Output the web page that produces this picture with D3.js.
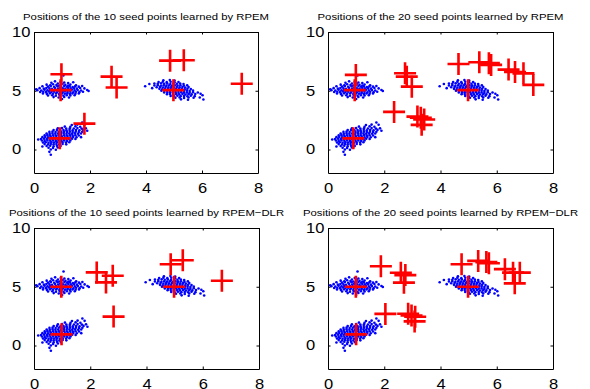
<!DOCTYPE html>
<html>
<head>
<meta charset="utf-8">
<script src="https://cdn.jsdelivr.net/npm/d3@7"></script>
<style>
	body { margin: 0; background: #fff; }
	svg { display: block; }
	text { font-family: "Liberation Sans", Arial, sans-serif; fill: #000; }
</style>
</head>
<body>
<div id="chart"></div>
<script>
// tick values shared by all four panels
const xTicks = [0, 2, 4, 6, 8];
const yTicks = [0, 5, 10];

const titles = [
	'Positions of the 10 seed points learned by RPEM',
	'Positions of the 20 seed points learned by RPEM',
	'Positions of the 10 seed points learned by RPEM\u2212DLR',
	'Positions of the 20 seed points learned by RPEM\u2212DLR',
];

// seed points (red crosses), one list per panel
const seedsRpem10 = [
	[0.98, 6.4], [0.95, 5.05], [0.92, 0.95], [1.8, 2.2], [2.77, 6.2],
	[2.95, 5.28], [4.86, 7.56], [5.35, 7.6], [4.98, 5.05], [7.42, 5.6],
];
const seedsRpem20 = [
	[0.99, 6.35], [0.95, 5.05], [0.9, 0.95], [4.98, 5.05], [2.35, 3.2],
	[2.74, 6.49], [2.8, 6.2], [2.98, 5.35], [3.18, 2.8], [3.3, 2.7],
	[3.42, 2.55], [3.33, 2.1], [4.64, 7.28], [5.38, 7.42], [5.72, 7.35],
	[5.8, 7.2], [6.42, 6.8], [6.65, 6.6], [6.95, 6.48], [7.3, 5.5],
];
const seedsDlr10 = [
	[0.97, 5.0], [0.98, 0.95], [4.98, 5.0], [2.23, 6.22], [2.56, 5.37],
	[2.8, 5.93], [2.83, 2.46], [4.86, 6.92], [5.29, 7.26], [6.68, 5.51],
];
const seedsDlr20 = [
	[0.99, 5.0], [1.0, 0.95], [4.98, 5.0], [1.88, 6.75], [2.59, 6.19],
	[2.75, 5.99], [2.7, 5.35], [2.04, 2.69], [2.85, 2.7], [2.97, 2.55],
	[3.1, 2.45], [3.08, 2.05], [4.75, 6.92], [5.34, 7.2], [5.63, 7.1],
	[5.72, 7.0], [6.29, 6.5], [6.58, 6.2], [6.82, 6.2], [6.64, 5.29],
];

// sample data (blue dots), the same in every panel
const clusterA = [
	[0.62, 5.68], [0.95, 5.75], [1.22, 5.66], [1.4, 5.72], [0.85, 5.62], [1.08, 5.7], [0.75, 5.8],
	[0.45, 5.52], [0.68, 5.55], [0.8, 5.48], [1.02, 5.58], [1.12, 5.5], [1.3, 5.53], [1.5, 5.47], [0.9, 5.45], [0.58, 5.46], [1.22, 5.45],
	[0.3, 5.38], [0.5, 5.35], [0.6, 5.4], [0.72, 5.33], [0.84, 5.38], [0.97, 5.36], [1.08, 5.41], [1.18, 5.34], [1.27, 5.39], [1.38, 5.32], [1.47, 5.37], [1.6, 5.35], [1.72, 5.4],
	[0.2, 5.22], [0.35, 5.18], [0.44, 5.24], [0.55, 5.2], [0.64, 5.17], [0.75, 5.23], [0.86, 5.19], [0.93, 5.25], [1.03, 5.21], [1.12, 5.18], [1.22, 5.24], [1.31, 5.2], [1.42, 5.22], [1.53, 5.18], [1.65, 5.23], [1.8, 5.2],
	[0.12, 5.05], [0.26, 5.02], [0.38, 5.08], [0.48, 5.04], [0.58, 5.07], [0.67, 5.02], [0.78, 5.06], [0.88, 5.03], [0.98, 5.08], [1.07, 5.02], [1.16, 5.06], [1.26, 5.04], [1.35, 5.08], [1.45, 5.03], [1.56, 5.06], [1.68, 5.02], [1.9, 5.07],
	[0.22, 4.9], [0.33, 4.92], [0.43, 4.88], [0.53, 4.93], [0.62, 4.89], [0.72, 4.92], [0.82, 4.87], [0.92, 4.91], [1.02, 4.88], [1.11, 4.93], [1.2, 4.89], [1.3, 4.92], [1.4, 4.87], [1.5, 4.91], [1.62, 4.88], [1.75, 4.92],
	[0.32, 4.76], [0.46, 4.73], [0.57, 4.78], [0.68, 4.74], [0.79, 4.77], [0.9, 4.72], [1.0, 4.76], [1.1, 4.74], [1.19, 4.78], [1.28, 4.73], [1.37, 4.77], [1.48, 4.74], [1.6, 4.76],
	[0.5, 4.6], [0.65, 4.62], [0.78, 4.58], [0.92, 4.61], [1.05, 4.57], [1.17, 4.62], [1.3, 4.59], [1.45, 4.62],
	[0.7, 4.46], [0.88, 4.42], [1.08, 4.47], [1.25, 4.43], [1.0, 4.3],
	[1.05, 6.3], [1.95, 4.98], [0.08, 5.12],
];
const clusterB = [
	[1.72, 2.3],
	[1.35, 2.08], [1.55, 2.12],
	[1.1, 1.95], [1.3, 1.93], [1.48, 1.97], [1.65, 1.94],
	[0.85, 1.8], [1.0, 1.82], [1.15, 1.78], [1.28, 1.81], [1.42, 1.79], [1.55, 1.82], [1.7, 1.78], [1.85, 1.8],
	[0.7, 1.65], [0.82, 1.67], [0.94, 1.63], [1.05, 1.66], [1.16, 1.64], [1.27, 1.67], [1.38, 1.63], [1.5, 1.66], [1.62, 1.64], [1.76, 1.67],
	[0.55, 1.5], [0.66, 1.52], [0.77, 1.48], [0.88, 1.51], [0.98, 1.49], [1.08, 1.52], [1.18, 1.48], [1.28, 1.51], [1.38, 1.49], [1.49, 1.52], [1.6, 1.48], [1.72, 1.51],
	[0.45, 1.36], [0.56, 1.33], [0.66, 1.37], [0.76, 1.34], [0.86, 1.36], [0.96, 1.33], [1.06, 1.37], [1.16, 1.34], [1.26, 1.36], [1.36, 1.33], [1.46, 1.37], [1.57, 1.34], [1.68, 1.36],
	[0.38, 1.2], [0.48, 1.22], [0.58, 1.18], [0.68, 1.21], [0.78, 1.19], [0.88, 1.22], [0.98, 1.18], [1.08, 1.21], [1.18, 1.19], [1.28, 1.22], [1.38, 1.18], [1.48, 1.21], [1.6, 1.19],
	[0.3, 1.05], [0.4, 1.07], [0.5, 1.03], [0.6, 1.06], [0.7, 1.04], [0.8, 1.07], [0.9, 1.03], [1.0, 1.06], [1.1, 1.04], [1.2, 1.07], [1.3, 1.03], [1.4, 1.06], [1.52, 1.04], [1.68, 1.05],
	[0.25, 0.9], [0.36, 0.92], [0.46, 0.88], [0.56, 0.91], [0.66, 0.89], [0.76, 0.92], [0.86, 0.88], [0.96, 0.91], [1.06, 0.89], [1.16, 0.92], [1.26, 0.88], [1.36, 0.91], [1.48, 0.89],
	[0.28, 0.76], [0.38, 0.73], [0.48, 0.77], [0.58, 0.74], [0.68, 0.76], [0.78, 0.73], [0.88, 0.77], [0.98, 0.74], [1.08, 0.76], [1.18, 0.73], [1.3, 0.77],
	[0.32, 0.6], [0.42, 0.62], [0.52, 0.58], [0.62, 0.61], [0.72, 0.59], [0.82, 0.62], [0.92, 0.58], [1.02, 0.61], [1.14, 0.59], [1.26, 0.62],
	[0.38, 0.46], [0.5, 0.43], [0.6, 0.47], [0.7, 0.44], [0.8, 0.46], [0.9, 0.43], [1.02, 0.47], [1.15, 0.44],
	[0.45, 0.3], [0.58, 0.32], [0.7, 0.28], [0.82, 0.31], [0.95, 0.29],
	[0.52, 0.15], [0.68, 0.13], [0.85, 0.17],
	[0.6, 0.0], [0.78, -0.02], [0.55, -0.2], [0.6, -0.45],
	[0.15, 0.85], [1.9, 1.6], [0.3, 0.25], [1.8, 2.1],
];
const clusterC = [
	[4.62, 5.9], [4.85, 5.92], [5.02, 5.87],
	[4.45, 5.75], [4.6, 5.77], [4.74, 5.73], [4.88, 5.76], [5.02, 5.72], [5.16, 5.75],
	[4.12, 5.58], [4.3, 5.62], [4.42, 5.6], [4.54, 5.63], [4.65, 5.59], [4.76, 5.62], [4.87, 5.58], [4.98, 5.61], [5.1, 5.6], [5.22, 5.62], [5.34, 5.58],
	[4.3, 5.45], [4.42, 5.47], [4.53, 5.43], [4.63, 5.46], [4.73, 5.44], [4.83, 5.47], [4.93, 5.43], [5.03, 5.46], [5.13, 5.44], [5.23, 5.47], [5.35, 5.43], [5.47, 5.46],
	[3.97, 5.38], [4.38, 5.3], [4.5, 5.32], [4.6, 5.28], [4.7, 5.31], [4.8, 5.29], [4.9, 5.32], [5.0, 5.28], [5.1, 5.31], [5.2, 5.29], [5.3, 5.32], [5.4, 5.28], [5.52, 5.31],
	[4.48, 5.16], [4.58, 5.13], [4.68, 5.17], [4.78, 5.14], [4.88, 5.16], [4.98, 5.13], [5.08, 5.17], [5.18, 5.14], [5.28, 5.16], [5.38, 5.13], [5.48, 5.17], [5.6, 5.14],
	[4.55, 5.0], [4.66, 5.02], [4.76, 4.98], [4.86, 5.01], [4.96, 4.99], [5.06, 5.02], [5.16, 4.98], [5.26, 5.01], [5.36, 4.99], [5.46, 5.02], [5.56, 4.98], [5.68, 5.01],
	[4.65, 4.86], [4.76, 4.83], [4.86, 4.87], [4.96, 4.84], [5.06, 4.86], [5.16, 4.83], [5.26, 4.87], [5.36, 4.84], [5.46, 4.86], [5.56, 4.83], [5.68, 4.87], [5.85, 4.85],
	[4.75, 4.7], [4.86, 4.72], [4.97, 4.68], [5.08, 4.71], [5.19, 4.69], [5.3, 4.72], [5.41, 4.68], [5.52, 4.71], [5.63, 4.69], [5.76, 4.72],
	[4.88, 4.56], [5.0, 4.53], [5.12, 4.57], [5.24, 4.54], [5.36, 4.56], [5.48, 4.53], [5.6, 4.57], [5.74, 4.54],
	[5.05, 4.4], [5.2, 4.42], [5.36, 4.38], [5.52, 4.42], [5.7, 4.4], [5.92, 4.42],
	[5.25, 4.27], [5.5, 4.24],
	[6.05, 4.25], [6.02, 4.62], [4.22, 5.22], [5.95, 4.75],
];

const seedSets = [seedsRpem10, seedsRpem20, seedsDlr10, seedsDlr20];
const samples = clusterA.concat(clusterB, clusterC);

const width = 590;
const height = 389;
const tickFont = 14;
const textStretch = 1.18;

// axes boxes in pixels: [left, top, right, bottom]
const boxes = [
	[34, 32, 258, 173],
	[328, 32, 553, 173],
	[34, 228, 259, 369],
	[328, 228, 553, 369],
];

const svg = d3.select('#chart').append('svg')
	.attr('width', width)
	.attr('height', height);

boxes.forEach(([left, top, right, bottom], i) => {
	const xScale = d3.scaleLinear().domain([0, 8]).range([left, right]);
	const yScale = d3.scaleLinear().domain([-2, 10]).range([bottom, top]);
	const g = svg.append('g');

	g.append('text')
		.attr('transform', `translate(${(left + right) / 2},${top - 12}) scale(${textStretch},1)`)
		.attr('text-anchor', 'middle')
		.style('font-size', '9.6px')
		.text(titles[i]);

	g.selectAll('.dot')
		.data(samples)
		.enter().append('circle')
		.attr('class', 'dot')
		.attr('cx', (d) => xScale(d[0]))
		.attr('cy', (d) => yScale(d[1]))
		.attr('r', 1.3)
		.style('fill', '#0000ff');

	const cross = 11;
	const seeds = g.selectAll('.seed')
		.data(seedSets[i])
		.enter().append('g')
		.attr('class', 'seed')
		.attr('transform', (d) => `translate(${xScale(d[0])},${yScale(d[1])})`);
	seeds.append('path')
		.attr('d', `M${-cross},0H${cross}M0,${-cross}V${cross}`)
		.attr('fill', 'none')
		.attr('stroke', '#ff0000')
		.attr('stroke-width', 2.6);

	const xAxis = g.append('g')
		.attr('transform', `translate(0,${bottom})`)
		.call(d3.axisBottom(xScale).tickValues(xTicks).tickSize(-2.5).tickSizeOuter(0).tickPadding(10));
	xAxis.selectAll('text')
		.attr('transform', `scale(${textStretch},1)`)
		.style('font-size', `${tickFont}px`);

	// y labels sit left-aligned in the margin, as in the original figure
	const yAxis = g.append('g')
		.attr('transform', `translate(${left},0)`)
		.call(d3.axisLeft(yScale).tickValues(yTicks).tickSize(-2.5).tickSizeOuter(0));
	yAxis.selectAll('text')
		.attr('text-anchor', 'start')
		.attr('x', -22 / textStretch)
		.attr('transform', `scale(${textStretch},1)`)
		.style('font-size', `${tickFont}px`);

	g.append('g')
		.attr('transform', `translate(0,${top})`)
		.call(d3.axisTop(xScale).tickValues(xTicks).tickSize(-2.5).tickSizeOuter(0).tickFormat(''));
	g.append('g')
		.attr('transform', `translate(${right},0)`)
		.call(d3.axisRight(yScale).tickValues(yTicks).tickSize(-2.5).tickSizeOuter(0).tickFormat(''));

	g.selectAll('.domain, .tick line')
		.attr('stroke', '#000')
		.attr('stroke-width', 1);
});
</script>
</body>
</html>
